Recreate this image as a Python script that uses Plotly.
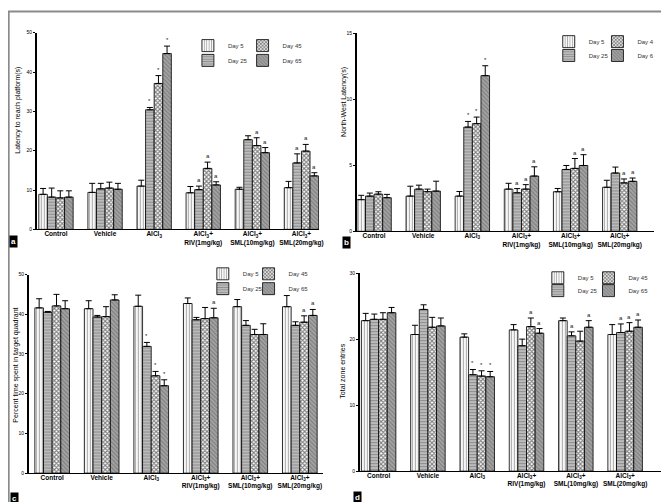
import plotly.graph_objects as go

groups = ["Control", "Vehicle", "AlCl<sub>3</sub>",
          "AlCl<sub>3</sub>+<br>RIV(1mg/kg)",
          "AlCl<sub>3</sub>+<br>SML(10mg/kg)",
          "AlCl<sub>3</sub>+<br>SML(20mg/kg)"]
days = ["Day 5", "Day 25", "Day 45", "Day 65"]
days_b = ["Day 5", "Day 25", "Day 4", "Day 6"]

# (a) latency to reach platform (s)
lat_mean = [[8.9, 9.4, 11.0, 9.3, 10.2, 10.6],
            [8.2, 10.3, 30.4, 10.1, 22.8, 16.9],
            [8.0, 10.5, 37.1, 15.5, 21.3, 19.9],
            [8.2, 10.2, 44.7, 11.3, 19.5, 13.6]]
lat_err = [[1.5, 2.3, 1.5, 1.6, 0.5, 1.6],
           [2.3, 1.4, 0.6, 0.9, 1.0, 2.3],
           [1.8, 1.5, 2.0, 1.6, 2.0, 1.7],
           [1.6, 1.5, 1.9, 0.8, 1.3, 0.8]]
lat_sig = [["", "", "", "", "", ""],
           ["", "", "*", "a", "", "a"],
           ["", "", "*", "a", "a", "a"],
           ["", "", "*", "a", "a", "a"]]

# (b) north-west latency (s)
nw_mean = [[2.4, 2.67, 2.67, 3.2, 3.0, 3.34],
           [2.67, 3.2, 7.9, 2.92, 4.69, 4.42],
           [2.82, 3.0, 8.16, 3.2, 4.77, 3.67],
           [2.55, 3.05, 11.8, 4.19, 4.99, 3.79]]
nw_err = [[0.33, 0.75, 0.35, 0.44, 0.25, 0.53],
          [0.23, 0.3, 0.43, 0.32, 0.3, 0.45],
          [0.18, 0.2, 0.5, 0.34, 0.75, 0.3],
          [0.25, 0.75, 0.75, 0.7, 0.82, 0.25]]
nw_sig = [["", "", "", "", "", ""],
          ["", "", "*", "a", "", ""],
          ["", "", "*", "a", "a", "a"],
          ["", "", "*", "a", "a", "a"]]

# (c) percent time spent in target quadrant
pt_mean = [[41.6, 41.4, 42.0, 42.7, 41.9, 41.9],
           [40.5, 39.3, 31.9, 38.6, 37.2, 37.2],
           [42.1, 39.4, 24.5, 38.9, 34.9, 38.0],
           [41.4, 43.6, 22.0, 39.1, 34.9, 39.7]]
pt_err = [[2.3, 2.0, 2.8, 1.4, 1.8, 2.8],
          [0.2, 0.4, 1.0, 0.6, 1.2, 0.9],
          [2.9, 2.5, 1.1, 2.8, 1.3, 1.6],
          [2.0, 1.3, 1.5, 2.4, 2.7, 1.5]]
pt_sig = [["", "", "", "", "", ""],
          ["", "", "*", "", "", ""],
          ["", "", "*", "", "", "a"],
          ["", "", "*", "a", "", "a"]]

# (d) total zone entries
tz_mean = [[22.8, 20.7, 20.3, 21.4, 22.8, 20.7],
           [23.0, 24.5, 14.6, 19.0, 20.5, 21.0],
           [23.0, 21.8, 14.4, 21.9, 19.7, 21.2],
           [24.0, 22.0, 14.3, 20.9, 21.8, 21.8]]
tz_err = [[1.1, 1.4, 0.5, 0.8, 0.4, 1.5],
          [0.8, 0.7, 0.8, 1.0, 0.6, 1.3],
          [1.0, 1.5, 0.8, 1.3, 1.5, 1.3],
          [0.8, 1.2, 0.8, 0.7, 1.0, 1.1]]
tz_sig = [["", "", "", "", "", ""],
          ["", "", "*", "", "a", "a"],
          ["", "", "*", "a", "", "a"],
          ["", "", "*", "a", "a", "a"]]

# fill textures for the four time points
patterns = [dict(shape="|", fgcolor="#555555", bgcolor="white", size=3, solidity=0.4),
            dict(shape="-", fgcolor="#555555", bgcolor="#c4c4c4", size=3, solidity=0.45),
            dict(shape="x", fgcolor="black", bgcolor="white", size=3, solidity=0.6),
            dict(shape="\\", fgcolor="#5a5a5a", bgcolor="#a4a4a4", size=3, solidity=0.4)]

W, H = 669, 502
def px(v):
    return v / W
def py(v):
    return 1 - v / H

# leg = (column 1 x, column 2 x, row 1 y, row 2 y) of the legend swatches
panels = [
    dict(mean=lat_mean, err=lat_err, sig=lat_sig, names=days, ymax=50, dtick=10,
         xd=[29, 313], xr=[-0.39, 5.36], yd=[221, 22],
         title="Latency to reach platform(s)", tpos=(10, 100),
         leg=(204, 259, 35, 50), letter="a", lpos=(6, 233)),
    dict(mean=nw_mean, err=nw_err, sig=nw_sig, names=days_b, ymax=15, dtick=5,
         xd=[351, 650], xr=[-0.35, 5.70], yd=[223, 22.7],
         title="North-West Latency(s)", tpos=(338, 92),
         leg=(567, 616, 31, 45), letter="b", lpos=(341, 234)),
    dict(mean=pt_mean, err=pt_err, sig=pt_sig, names=days, ymax=50, dtick=10,
         xd=[21, 317], xr=[-0.47, 5.47], yd=[467.7, 266.7],
         title="Percent time spent in target quadrant", tpos=(8, 358),
         leg=(219, 265, 266, 281), letter="c", lpos=(7, 493)),
    dict(mean=tz_mean, err=tz_err, sig=tz_sig, names=days, ymax=30, dtick=10,
         xd=[354, 664], xr=[-0.38, 5.87], yd=[465.7, 265.3],
         title="Total zone entries", tpos=(337, 364),
         leg=(556, 607, 270, 283), letter="d", lpos=(352, 492)),
]

fig = go.Figure()
annotations = []
legends = {}
bw = 0.7 / 4
font = "Liberation Sans, Arial, sans-serif"

for p, pn in enumerate(panels):
    sfx = "" if p == 0 else str(p + 1)
    x1, x2, r1, r2 = pn["leg"]
    spots = [(x1, r1), (x1, r2), (x2, r1), (x2, r2)]
    for k in range(4):
        n = 4 * p + k + 1
        legname = "legend" if n == 1 else "legend%d" % n
        legends[legname] = dict(
            orientation="h", x=px(spots[k][0] - 23), y=py(spots[k][1]),
            xanchor="left", yanchor="middle", bgcolor="rgba(0,0,0,0)",
            font=dict(size=6, color="#333", family=font), itemwidth=30)
        fig.add_trace(go.Bar(
            x=list(range(6)), y=pn["mean"][k], name=pn["names"][k],
            xaxis="x" + sfx, yaxis="y" + sfx, legend=legname,
            marker=dict(pattern=patterns[k], line=dict(color="black", width=0.8)),
            error_y=dict(type="data", array=pn["err"][k], arrayminus=[0] * 6,
                         symmetric=False, color="black", thickness=1, width=3),
        ))
        for i in range(6):
            if pn["sig"][k][i]:
                annotations.append(dict(
                    x=i + (k - 1.5) * bw, y=pn["mean"][k][i] + pn["err"][k][i],
                    xref="x" + sfx, yref="y" + sfx, text=pn["sig"][k][i],
                    showarrow=False, yanchor="bottom", yshift=1,
                    font=dict(size=6, color="#222", family=font)))
    fig.update_layout({
        "xaxis" + sfx: dict(domain=[px(pn["xd"][0]), px(pn["xd"][1])], range=pn["xr"],
                            anchor="y" + sfx, tickmode="array", tickvals=list(range(6)),
                            ticktext=["<b>%s</b>" % g for g in groups], ticks="",
                            tickangle=0, ticklabelstandoff=-2,
                            showline=True, linecolor="black", linewidth=1,
                            showgrid=False, zeroline=False,
                            tickfont=dict(size=6.5, color="black", family=font)),
        "yaxis" + sfx: dict(domain=[py(pn["yd"][0]), py(pn["yd"][1])],
                            range=[0, pn["ymax"]], dtick=pn["dtick"], anchor="x" + sfx,
                            showline=True, linecolor="black", linewidth=1.5,
                            ticks="outside", ticklen=2, tickwidth=1, tickcolor="black",
                            showgrid=False, zeroline=False,
                            tickfont=dict(size=5, color="black", family=font)),
    })
    annotations.append(dict(x=px(pn["tpos"][0]), y=py(pn["tpos"][1]), xref="paper",
                            yref="paper", text=pn["title"], textangle=-90,
                            xanchor="center", yanchor="middle",
                            showarrow=False, font=dict(size=7, color="black", family=font)))
    annotations.append(dict(x=px(pn["lpos"][0]), y=py(pn["lpos"][1]), xref="paper",
                            yref="paper", text="<b>%s</b>" % pn["letter"], bgcolor="black",
                            xanchor="center", yanchor="middle",
                            showarrow=False, borderpad=1,
                            font=dict(size=8, color="white", family=font)))

fig.update_layout(legends)
fig.update_layout(
    width=W, height=H, margin=dict(l=0, r=0, t=0, b=0),
    paper_bgcolor="white", plot_bgcolor="white",
    barmode="group", bargap=0.3, bargroupgap=0,
    showlegend=True, annotations=annotations,
    shapes=[dict(type="rect", xref="paper", yref="paper", x0=0.001, y0=0.004,
                 x1=0.998, y1=0.999, line=dict(color="#8a8a8a", width=2))],
)

fig.write_html("out.html")
